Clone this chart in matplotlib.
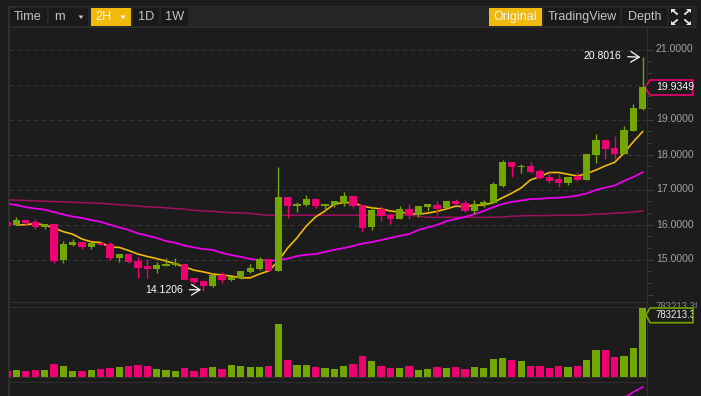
import matplotlib
matplotlib.use("Agg")
import matplotlib.pyplot as plt
from matplotlib.patches import Rectangle, Polygon

open_ = [16.09,16.00,16.14,16.09,15.94,16.03,15.00,15.43,15.51,15.37,15.49,15.46,15.06,15.17,14.97,14.83,14.74,14.83,14.86,14.89,14.49,14.40,14.26,14.57,14.43,14.49,14.66,14.74,15.03,14.69,16.80,16.54,16.57,16.74,16.54,16.57,16.63,16.83,16.57,15.94,16.46,16.29,16.17,16.46,16.29,16.51,16.57,16.49,16.69,16.63,16.40,16.57,16.63,17.11,17.80,17.66,17.69,17.54,17.37,17.31,17.20,17.40,17.29,18.00,18.43,18.20,18.03,18.69,19.32]
close = [15.98,16.14,16.06,15.94,16.03,14.97,15.46,15.51,15.37,15.49,15.43,15.06,15.17,14.94,14.77,14.74,14.86,14.89,14.91,14.43,14.37,14.26,14.57,14.43,14.51,14.69,14.77,15.03,14.69,16.80,16.54,16.60,16.74,16.54,16.60,16.69,16.83,16.54,15.91,16.43,16.26,16.17,16.46,16.29,16.54,16.60,16.46,16.69,16.60,16.40,16.60,16.66,17.17,17.80,17.66,17.69,17.51,17.34,17.26,17.20,17.37,17.29,18.03,18.43,18.17,18.03,18.71,19.34,19.94]
high = [16.09,16.22,16.14,16.16,16.03,16.03,15.54,15.59,15.51,15.52,15.52,15.52,15.17,15.17,15.08,15.03,14.94,15.05,15.05,14.89,14.49,14.40,14.57,14.66,14.51,14.69,14.89,15.09,15.03,17.65,16.80,16.66,16.86,16.74,16.60,16.69,16.94,16.83,16.57,16.51,16.54,16.34,16.54,16.60,16.54,16.60,16.68,16.69,16.74,16.71,16.71,16.71,17.23,17.86,17.80,17.74,17.79,17.60,17.51,17.45,17.37,17.51,18.03,18.60,18.43,18.54,18.83,19.46,20.80]
low = [15.98,16.00,16.01,15.89,15.89,14.91,14.92,15.41,15.32,15.32,15.43,15.01,14.95,14.92,14.50,14.50,14.64,14.83,14.83,14.43,14.31,14.12,14.23,14.34,14.40,14.45,14.64,14.71,14.69,14.69,16.19,16.36,16.54,16.50,16.40,16.51,16.53,16.48,15.81,15.86,16.12,16.03,16.17,16.18,16.24,16.40,16.29,16.49,16.57,16.36,16.31,16.52,16.63,17.09,17.37,17.49,17.49,17.31,17.19,17.09,17.15,17.26,17.29,17.77,17.89,17.89,18.03,18.69,19.29]
volume = [68,79,68,79,79,148,125,68,68,79,91,102,114,125,136,125,91,79,68,102,68,102,114,91,136,125,114,114,125,602,193,136,136,114,102,91,125,148,238,182,125,102,102,125,79,91,114,102,114,91,114,102,204,216,193,182,125,125,102,125,114,125,193,306,306,227,238,329,783.213]
ma_fast = [None,16.00,16.01,16.04,16.00,15.92,15.81,15.74,15.60,15.52,15.50,15.37,15.36,15.27,15.17,15.10,15.04,14.97,14.89,14.80,14.71,14.66,14.60,14.57,14.54,14.49,14.49,14.60,14.69,14.97,15.34,15.63,15.97,16.23,16.40,16.60,16.64,16.64,16.54,16.49,16.46,16.40,16.37,16.33,16.31,16.34,16.39,16.46,16.54,16.52,16.57,16.57,16.64,16.78,16.91,17.06,17.29,17.38,17.50,17.50,17.45,17.40,17.47,17.57,17.69,17.79,18.06,18.38,18.67]
ma_mid = [16.61,16.57,16.51,16.47,16.44,16.37,16.30,16.24,16.20,16.14,16.09,16.01,15.93,15.86,15.76,15.70,15.63,15.54,15.49,15.41,15.36,15.31,15.29,15.20,15.14,15.09,15.03,15.00,14.98,15.00,15.04,15.11,15.15,15.17,15.23,15.29,15.34,15.40,15.47,15.51,15.57,15.63,15.69,15.74,15.86,15.93,16.00,16.11,16.17,16.23,16.31,16.40,16.51,16.60,16.66,16.70,16.74,16.75,16.77,16.78,16.80,16.84,16.90,17.00,17.07,17.13,17.26,17.37,17.51]
ma_slow = [16.72,16.71,16.70,16.69,16.68,16.67,16.66,16.65,16.64,16.63,16.62,16.60,16.58,16.56,16.54,16.52,16.51,16.49,16.47,16.45,16.42,16.40,16.39,16.37,16.35,16.35,16.33,16.30,16.28,16.28,16.28,16.28,16.28,16.28,16.28,16.28,16.28,16.28,16.28,16.28,16.28,16.28,16.28,16.28,16.25,16.22,16.22,16.22,16.22,16.22,16.22,16.22,16.22,16.23,16.25,16.26,16.27,16.27,16.27,16.28,16.28,16.28,16.29,16.31,16.32,16.34,16.35,16.37,16.40]
indicator_idx = [66, 67, 68]
indicator = [-2, 4, 9]
price_ticks = [15, 16, 17, 18, 19, 20, 21]
tick_labels = ["15.0000", "16.0000", "17.0000", "18.0000", "19.0000", "20.0000", "21.0000"]
left_buttons = ["Time", "m", "2H", "1D", "1W"]
right_buttons = ["Original", "TradingView", "Depth"]
last_price = 19.9349
last_volume_label = "783213.3"

BG = "#1c1c1c"; BAR = "#262626"; BTN = "#1a1a1a"; LINE = "#303030"
GREEN = "#73a600"; PINK = "#ee0070"; YEL = "#f0b90b"; MAG = "#ea00ea"; DPK = "#a01060"
FONT = "Liberation Sans"
W, H = 701, 396

fig = plt.figure(figsize=(W/100, H/100), dpi=100, facecolor=BG)

def pax(x0, y0, x1, y1, **kw):
    return fig.add_axes([x0/W, 1-y1/H, (x1-x0)/W, (y1-y0)/H], **kw)

c = fig.add_axes([0, 0, 1, 1], zorder=0)
c.set_xlim(0, W); c.set_ylim(H, 0); c.axis("off"); c.set_facecolor(BG)
def rect(x0, y0, x1, y1, col, z=1, a=c, **kw):
    a.add_patch(Rectangle((x0, y0), x1-x0, y1-y0, fc=col, ec="none", lw=0, zorder=z, **kw))
rect(8, 6, 697, 27.5, BAR)
rect(8, 6, 697, 7, LINE)
rect(8, 27, 697, 28, LINE)
for y in (302, 307, 377, 382):
    rect(8, y, 648, y+1, LINE)
rect(8, 6, 10, 396, LINE)
rect(647, 27, 648, 396, LINE)

spans = [(10, 47), (49, 88), (91, 131), (133, 159), (161, 188)]
centers = [28, 59, 103, 146, 175]
for lab, (a, b), cx in zip(left_buttons, spans, centers):
    active = lab == "2H"
    rect(a, 8, b, 26, YEL if active else BTN, 2)
    c.text(cx, 17, lab, color="#f5f5f5" if active else "#c4c4c4", fontsize=9.2,
           family=FONT, ha="center", va="center", zorder=3)
for tx, col in ((81, "#c4c4c4"), (123, "#ffffff")):
    c.add_patch(Polygon([(tx-2.5, 15.5), (tx+2.5, 15.5), (tx, 19)], fc=col, ec="none", zorder=3))

rspans = [(489, 542), (544, 620), (622, 667)]
for lab, (a, b) in zip(right_buttons, rspans):
    active = lab == "Original"
    rect(a, 8, b, 26, YEL if active else BTN, 2)
    c.text((a+b)/2, 17, lab, color="#f5f5f5" if active else "#c4c4c4", fontsize=9.0,
           family=FONT, ha="center", va="center", zorder=3)
rect(669, 8, 692, 26, BTN, 2)
for sx, sy, cx, cy in ((-1, -1, 676, 13), (1, -1, 686, 13), (-1, 1, 676, 21), (1, 1, 686, 21)):
    c.add_patch(Polygon([(cx+sx*5, cy+sy*4), (cx+sx*0, cy+sy*4), (cx+sx*5, cy+sy*0)],
                        fc="#e8e8e8", ec="none", zorder=3))
    c.plot([cx-sx*1, cx+sx*3], [cy-sy*1, cy+sy*2.5], color="#e8e8e8", lw=1.3, zorder=3)

idx = list(range(len(close)))
XL = (0.198, 68.46)
WIDTH = 0.78

ax = pax(9, 27, 647, 302, zorder=2)
ax.set_facecolor("none")
ax.set_xlim(*XL)
ax.set_ylim(21-(302-50)/35, 21+(50-27)/35)
for s in ax.spines.values():
    s.set_visible(False)
ax.set_xticks([])
ax.set_yticks([])
for t in price_ticks:
    ax.axhline(t, color="#333333", lw=0.75, ls=(0, (4.8, 2.9)), zorder=1)
ax.plot(idx, ma_slow, color=DPK, lw=1.1, zorder=2)
ax.plot(idx, ma_mid, color=MAG, lw=1.3, zorder=2)
ax.plot(idx[1:], ma_fast[1:], color=YEL, lw=1.2, zorder=2)
cols = [GREEN if cl >= op else PINK for op, cl in zip(open_, close)]
ax.vlines(idx, low, high, colors=cols, lw=1.0, zorder=3)
ax.bar(idx, [abs(cl-op) for op, cl in zip(open_, close)], bottom=[min(op, cl) for op, cl in zip(open_, close)],
       width=WIDTH, color=cols, lw=0, zorder=4)

imax = max(idx, key=lambda i: high[i]); imin = min(idx, key=lambda i: low[i])
arrow = dict(arrowstyle="->,head_length=0.55,head_width=0.35", color="white", lw=0.9,
             shrinkA=2.5, shrinkB=0, mutation_scale=11)
ax.annotate(f"{20.8016:.4f}", xy=(imax-0.25, high[imax]-0.005), xytext=(-13.5, 1), textcoords="offset points",
            color="white", fontsize=7.5, family=FONT, ha="right", va="center", arrowprops=arrow)
ax.annotate(f"{14.1206:.4f}", xy=(imin-0.25, low[imin]+0.03), xytext=(-13, 0), textcoords="offset points",
            color="white", fontsize=7.5, family=FONT, ha="right", va="center", arrowprops=arrow)

def py(p):
    return 50 + (21-p)*35
for t, lab in zip(price_ticks, tick_labels):
    if t == 20:
        continue
    c.text(656, py(t)-0.5, lab, color="#a2a29e", fontsize=7.6, family=FONT, ha="left", va="center", zorder=3)
for k in range(-1, 22):
    val = 14 + k/3
    yy = py(val)
    if 28 < yy < 302:
        major = k % 3 == 0
        rect(648, yy-0.5, 654 if major else 652, yy+0.5, "#3a3a3a", 2)

c.add_patch(Polygon([(645, py(last_price)), (650, 80), (692.7, 80), (692.7, 95), (650, 95)],
                    fc=BG, ec=PINK, lw=1.2, zorder=4))
c.text(656, 87.3, f"{last_price:.4f}", color="#f5f5f5", fontsize=7.6, family=FONT, ha="left", va="center", zorder=5)

v = pax(9, 308, 647, 377, zorder=2)
v.set_facecolor("none"); v.set_xlim(*XL); v.set_ylim(0, 783.213)
v.axis("off")
v.bar(idx, volume, width=WIDTH, color=cols, lw=0)

top_lab = c.text(655, 307.5, "783213.38", color="#8a8a86", fontsize=6.9, family=FONT, ha="left", va="center", zorder=3)
top_lab.set_clip_on(True)
top_lab.set_clip_path(Rectangle((650, 300), 47, 7.5, transform=c.transData))
c.add_patch(Polygon([(646, 315), (650, 308), (693, 308), (693, 322.7), (650, 322.7)],
                    fc=BG, ec=GREEN, lw=1.2, zorder=4))
vl = c.text(655, 315.5, last_volume_label, color="#f0f0f0", fontsize=6.9, family=FONT, ha="left", va="center", zorder=5)
vl.set_clip_on(True)
vl.set_clip_path(Rectangle((650, 306), 43, 18, transform=c.transData))

m = pax(9, 383, 647, 396, zorder=2)
m.set_facecolor("none"); m.set_xlim(*XL); m.set_ylim(0, 13); m.axis("off")
m.plot(indicator_idx, indicator, color=MAG, lw=1.2)

fig.savefig("out.png", dpi=100, facecolor=BG)
